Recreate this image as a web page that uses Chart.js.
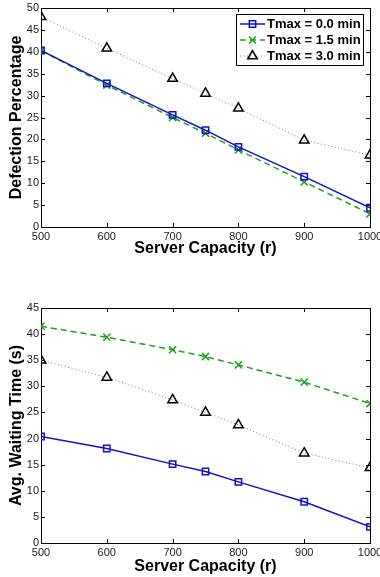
<!DOCTYPE html>
<html>
<head>
<meta charset="utf-8">
<script src="https://cdn.jsdelivr.net/npm/chart.js@4.4.1/dist/chart.umd.min.js"></script>
<style>
  html, body { margin: 0; padding: 0; background: #fff; }
  #wrap { position: relative; width: 380px; height: 577px; overflow: hidden; }
  canvas { position: absolute; left: 0; }
  #defection { top: 0; }
  #waiting { top: 288px; }
</style>
</head>
<body>
<div id="wrap">
  <canvas id="defection" width="380" height="270"></canvas>
  <canvas id="waiting" width="380" height="289"></canvas>
</div>
<script>
const capacities = [500, 600, 700, 750, 800, 900, 1000];
const seriesLabels = ['Tmax = 0.0 min', 'Tmax = 1.5 min', 'Tmax = 3.0 min'];

const defection00 = [40.3, 32.8, 25.6, 22.1, 18.3, 11.5, 4.4];
const defection15 = [40.3, 32.4, 25.0, 21.4, 17.6, 10.3, 3.0];
const defection30 = [48.0, 40.8, 33.9, 30.5, 27.1, 19.8, 16.4];

const waiting00 = [20.4, 18.1, 15.1, 13.7, 11.7, 7.9, 3.1];
const waiting15 = [41.5, 39.4, 37.0, 35.7, 34.1, 30.8, 26.7];
const waiting30 = [35.0, 31.7, 27.4, 25.0, 22.6, 17.2, 14.4];

const FONT = "'Liberation Sans', Arial, Helvetica, sans-serif";

function toPoints(values) {
    return values.map((v, i) => ({ x: capacities[i], y: v }));
}

function makeDatasets(s0, s15, s30) {
    return [
        {
            label: seriesLabels[0], data: toPoints(s0),
            borderColor: '#1212c8', borderWidth: 1.5,
            pointStyle: 'rect', pointRadius: 4.5, pointBorderWidth: 1.5,
            pointBorderColor: '#1212c8', pointBackgroundColor: 'rgba(0,0,0,0)'
        },
        {
            label: seriesLabels[1], data: toPoints(s15),
            borderColor: '#1f9e1f', borderWidth: 1.5, borderDash: [6, 4],
            pointStyle: 'crossRot', pointRadius: 5, pointBorderWidth: 1.5,
            pointBorderColor: '#1f9e1f'
        },
        {
            label: seriesLabels[2], data: toPoints(s30),
            borderColor: '#7a7a7a', borderWidth: 1, borderDash: [1, 2.5],
            pointStyle: 'triangle', pointRadius: 5.5, pointBorderWidth: 1.5,
            pointBorderColor: '#000', pointBackgroundColor: 'rgba(0,0,0,0)'
        }
    ];
}

// box round the plot area with inward ticks on all four sides
const matlabBox = {
    id: 'matlabBox',
    beforeDatasetsDraw(chart) {
        const { ctx, chartArea: a, scales: { x, y } } = chart;
        const len = 4;
        ctx.save();
        ctx.strokeStyle = '#000';
        ctx.lineWidth = 1;
        ctx.beginPath();
        x.ticks.forEach((t) => {
            const px = Math.round(x.getPixelForValue(t.value)) + 0.5;
            ctx.moveTo(px, a.bottom); ctx.lineTo(px, a.bottom - len);
            ctx.moveTo(px, a.top); ctx.lineTo(px, a.top + len);
        });
        y.ticks.forEach((t) => {
            const py = Math.round(y.getPixelForValue(t.value)) + 0.5;
            ctx.moveTo(a.left, py); ctx.lineTo(a.left + len, py);
            ctx.moveTo(a.right, py); ctx.lineTo(a.right - len, py);
        });
        ctx.stroke();
        ctx.strokeRect(Math.round(a.left) + 0.5, Math.round(a.top) + 0.5,
            Math.round(a.width), Math.round(a.height));
        ctx.restore();
    }
};

// legend drawn inside the plot, top right corner
const insetLegend = {
    id: 'insetLegend',
    afterDraw(chart, args, opts) {
        if (!opts.show) return;
        const { ctx, chartArea: a } = chart;
        const w = 127, h = 51, rowH = 16;
        const left = a.right - 7 - w, top = a.top + 6;
        ctx.save();
        ctx.fillStyle = '#fff';
        ctx.fillRect(left, top, w, h);
        ctx.strokeStyle = '#000';
        ctx.lineWidth = 1;
        ctx.strokeRect(left + 0.5, top + 0.5, w, h);
        ctx.font = `bold 13px ${FONT}`;
        ctx.textBaseline = 'middle';
        chart.data.datasets.forEach((ds, i) => {
            const cy = top + 10 + i * rowH;
            ctx.save();
            ctx.strokeStyle = ds.borderColor;
            ctx.lineWidth = ds.borderWidth;
            ctx.setLineDash(ds.borderDash || []);
            ctx.beginPath();
            ctx.moveTo(left + 4, cy);
            ctx.lineTo(left + 29, cy);
            ctx.stroke();
            ctx.restore();
            ctx.save();
            ctx.strokeStyle = ds.pointBorderColor;
            ctx.fillStyle = ds.pointBackgroundColor || 'rgba(0,0,0,0)';
            ctx.lineWidth = ds.pointBorderWidth;
            Chart.helpers.drawPoint(ctx, {
                pointStyle: ds.pointStyle, radius: ds.pointRadius, rotation: 0,
                borderWidth: ds.pointBorderWidth
            }, left + 16.5, cy);
            ctx.restore();
            ctx.fillStyle = '#000';
            ctx.fillText(ds.label, left + 31, cy + 0.5);
        });
        ctx.restore();
    }
};

function buildChart(id, datasets, cfg) {
    const ctx = document.getElementById(id).getContext('2d');
    return new Chart(ctx, {
        type: 'line',
        data: { datasets: datasets },
        options: {
            responsive: false,
            animation: false,
            layout: { padding: { top: cfg.padTop, right: 10, bottom: 0, left: 0 } },
            elements: { line: { tension: 0 } },
            plugins: {
                legend: { display: false },
                tooltip: { enabled: false },
                insetLegend: { show: cfg.legend }
            },
            scales: {
                x: {
                    type: 'linear', min: 500, max: 1000,
                    grid: { display: false, drawTicks: false },
                    border: { display: false },
                    ticks: {
                        stepSize: 100, padding: 3, maxRotation: 0, autoSkip: false,
                        color: '#1a1a1a', font: { family: FONT, size: 11 },
                        callback: (value) => String(value)
                    },
                    title: {
                        display: true, text: 'Server Capacity (r)', color: '#000',
                        font: { family: FONT, size: 16, weight: 'bold' },
                        padding: { top: 0, bottom: cfg.titlePadBottom }
                    },
                    afterFit(scale) {
                        scale.height = cfg.xHeight;
                        scale.paddingLeft = 0;
                        scale.paddingRight = 0;
                    }
                },
                y: {
                    min: 0, max: cfg.yMax,
                    grid: { display: false, drawTicks: false },
                    border: { display: false },
                    ticks: {
                        stepSize: 5, padding: 2,
                        color: '#1a1a1a', font: { family: FONT, size: 11 }
                    },
                    title: {
                        display: true, text: cfg.yTitle, color: '#000',
                        font: { family: FONT, size: 16, weight: 'bold' },
                        padding: { top: 7, bottom: 0 }
                    },
                    afterFit(scale) {
                        scale.width = 41;
                        scale.paddingTop = 0;
                        scale.paddingBottom = 0;
                    }
                }
            }
        },
        plugins: [matlabBox, insetLegend]
    });
}

buildChart('defection', makeDatasets(defection00, defection15, defection30), {
    yMax: 50, yTitle: 'Defection Percentage', legend: true,
    padTop: 8, xHeight: 43, titlePadBottom: 12
});

buildChart('waiting', makeDatasets(waiting00, waiting15, waiting30), {
    yMax: 45, yTitle: 'Avg. Waiting Time (s)', legend: false,
    padTop: 20, xHeight: 34, titlePadBottom: 1
});
</script>
</body>
</html>
